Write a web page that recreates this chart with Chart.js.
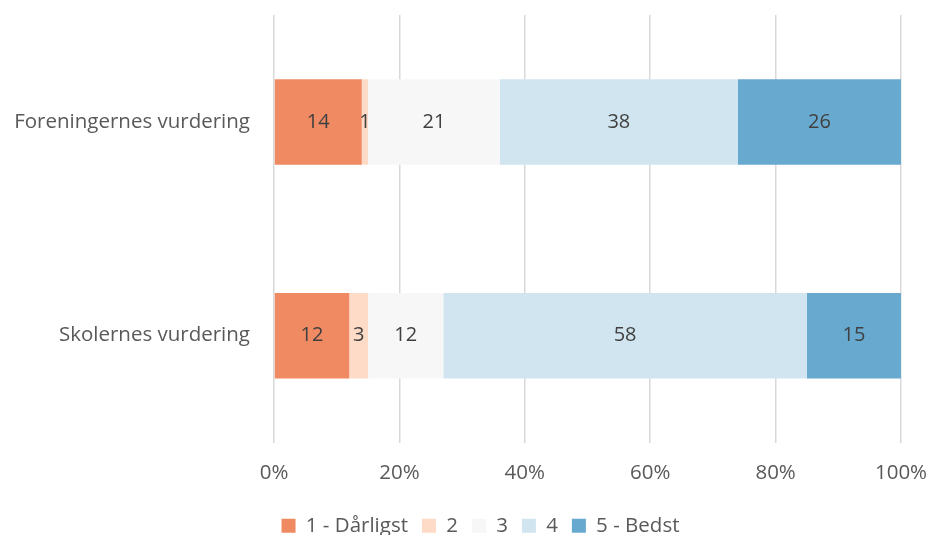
<!DOCTYPE html>
<html>
<head>
<meta charset="utf-8">
<script src="https://cdn.jsdelivr.net/npm/chart.js@4"></script>
<style>
  html, body { margin: 0; padding: 0; background: #fff; }
  #wrap { width: 929px; height: 535px; }
</style>
</head>
<body>
<div id="wrap"><canvas id="Canvas1" width="929" height="535"></canvas></div>
<script>
var labels = ["Foreningernes vurdering", "Skolernes vurdering"];
var seriesNames = ["1 - Dårligst", "2", "3", "4", "5 - Bedst"];
var s1 = [14, 12];
var s2 = [1, 3];
var s3 = [21, 12];
var s4 = [38, 58];
var s5 = [26, 15];
var xTicks = [0, 20, 40, 60, 80, 100];

var colors = ['#F08A62', '#FDDBC7', '#F7F7F7', '#D1E5F0', '#67A9CF'];
var fontFam = "'Open Sans', Lato, sans-serif";

// draw the value in the middle of every bar segment
var valueLabels = {
    id: 'valueLabels',
    afterDatasetsDraw: function(chart) {
        var ctx = chart.ctx;
        ctx.save();
        ctx.font = '20px ' + fontFam;
        ctx.fillStyle = '#404040';
        ctx.textAlign = 'center';
        ctx.textBaseline = 'middle';
        chart.data.datasets.forEach(function(ds, i) {
            var meta = chart.getDatasetMeta(i);
            meta.data.forEach(function(el, j) {
                var cx = (el.x + el.base) / 2;
                ctx.fillText(ds.data[j], cx, el.y);
            });
        });
        ctx.restore();
    }
};

// excel centres the legend a bit right of the canvas middle
var legendShift = {
    id: 'legendShift',
    afterLayout: function(chart) {
        chart.legend.left += 30;
        chart.legend.right += 30;
    }
};

var allSeries = [s1, s2, s3, s4, s5];
var datasets = allSeries.map(function(d, i) {
    return {
        label: seriesNames[i],
        data: d,
        backgroundColor: colors[i],
        borderWidth: 0,
        categoryPercentage: 1,
        barPercentage: 0.4
    };
});

var GKChart = document.getElementById('Canvas1').getContext('2d');
var myChart = new Chart(GKChart, {
    type: 'bar',
    data: { labels: labels, datasets: datasets },
    plugins: [valueLabels, legendShift],
    options: {
        indexAxis: 'y',
        responsive: false,
        animation: false,
        layout: { padding: { top: 15, right: 28, left: 0, bottom: -11 } },
        scales: {
            x: {
                stacked: true,
                min: 0,
                max: 100,
                afterBuildTicks: function(axis) {
                    axis.ticks = xTicks.map(function(v) { return { value: v }; });
                },
                afterFit: function(axis) { axis.height = 59; },
                ticks: {
                    callback: function(v) { return v + '%'; },
                    font: { size: 20.5, family: fontFam },
                    color: '#595959',
                    padding: 0,
                    maxRotation: 0
                },
                grid: { color: '#D9D9D9', lineWidth: 1.5, drawTicks: true, tickLength: 18, tickColor: 'rgba(0,0,0,0)' },
                border: { display: false }
            },
            y: {
                stacked: true,
                afterFit: function(axis) { axis.width = 274; },
                ticks: {
                    font: { size: 20.5, family: fontFam },
                    color: '#595959',
                    padding: 0
                },
                grid: { display: false, drawTicks: true, tickLength: 24 },
                border: { display: false }
            }
        },
        plugins: {
            legend: {
                position: 'bottom',
                labels: {
                    boxWidth: 14,
                    boxHeight: 14,
                    font: { size: 20.5, family: fontFam },
                    color: '#595959',
                    padding: 14
                }
            },
            tooltip: { enabled: false }
        }
    }
});
</script>
</body>
</html>
